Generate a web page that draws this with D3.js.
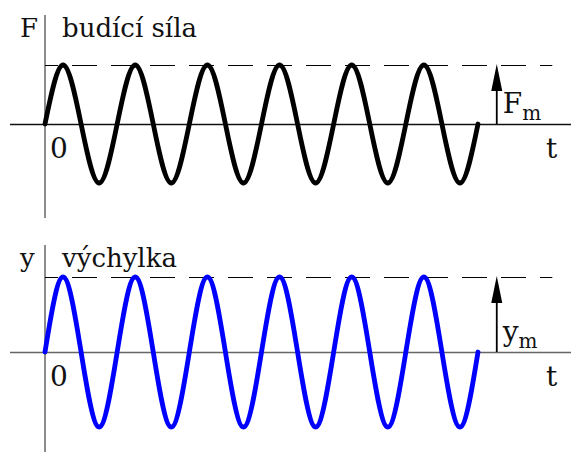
<!DOCTYPE html>
<html>
<head>
<meta charset="utf-8">
<script src="https://cdn.jsdelivr.net/npm/d3@7"></script>
<style>
  html, body { margin: 0; padding: 0; background: #fff; }
  svg { display: block; }
  text { font-family: "DejaVu Serif", "Liberation Serif", serif; fill: #111; }
</style>
</head>
<body>
<script>
// Time in periods of the driving force, sampled every quarter period
const timeKeys = [0, 0.25, 0.5, 0.75, 1, 1.25, 1.5, 1.75, 2, 2.25, 2.5, 2.75, 3,
                  3.25, 3.5, 3.75, 4, 4.25, 4.5, 4.75, 5, 5.25, 5.5, 5.75, 6];
// Driving force F(t), in units of the amplitude F_m
const forceKeys = [0, 1, 0, -1, 0, 1, 0, -1, 0, 1, 0, -1, 0,
                   1, 0, -1, 0, 1, 0, -1, 0, 1, 0, -1, 0];
// Displacement y(t), in units of the amplitude y_m
const displacementKeys = [0, 1, 0, -1, 0, 1, 0, -1, 0, 1, 0, -1, 0,
                          1, 0, -1, 0, 1, 0, -1, 0, 1, 0, -1, 0];
// Amplitude marker position and peak-line end, in periods
const amplitudeMarkT = 6.26;
const peakLineEndT = 7.03;

const panels = [
  { axisName: "F", title: "budící síla", amp: "F", ampSub: "m", values: forceKeys,
    color: "#000", axisColor: "#111", top: 15, bottom: 218, y0: 124, yPeak: 65 },
  { axisName: "y", title: "výchylka", amp: "y", ampSub: "m", values: displacementKeys,
    color: "#0000ff", axisColor: "#666", top: 245, bottom: 452, y0: 352, yPeak: 277 }
];

const W = 571, H = 452;
const svg = d3.select("body").append("svg").attr("width", W).attr("height", H);

const x = d3.scaleLinear().domain([0, 6]).range([45, 478]);

panels.forEach(p => {
  const g = svg.append("g");
  const y = d3.scaleLinear().domain([-1, 1]).range([2 * p.y0 - p.yPeak, p.yPeak]);

  // vertical axis
  g.append("line").attr("x1", x(0)).attr("x2", x(0))
    .attr("y1", p.top).attr("y2", p.bottom)
    .attr("stroke", "#666").attr("stroke-width", 1.5);
  // time axis
  g.append("line").attr("x1", 10).attr("x2", W)
    .attr("y1", y(0) + 0.5).attr("y2", y(0) + 0.5)
    .attr("stroke", p.axisColor).attr("stroke-width", 1.3);

  // dashed amplitude level
  g.append("line").attr("x1", x(0)).attr("x2", x(peakLineEndT))
    .attr("y1", y(1) + 0.5).attr("y2", y(1) + 0.5)
    .attr("stroke", "#000").attr("stroke-width", 1.1)
    .attr("stroke-dasharray", "25 14").attr("stroke-dashoffset", 12);

  // oscillation curve
  const pts = timeKeys.map((t, i) => [t, p.values[i]]);
  g.append("path").datum(pts)
    .attr("d", d3.line().x(d => x(d[0])).y(d => y(d[1])).curve(d3.curveNatural))
    .attr("fill", "none").attr("stroke", p.color).attr("stroke-width", 4.8)
    .attr("stroke-linecap", "round").attr("stroke-linejoin", "round");

  // amplitude arrow
  const ax = x(amplitudeMarkT);
  g.append("line").attr("x1", ax).attr("x2", ax)
    .attr("y1", y(0)).attr("y2", y(1) + 20)
    .attr("stroke", "#000").attr("stroke-width", 1.8);
  g.append("path")
    .attr("d", `M${ax},${y(1) - 1} L${ax - 5.5},${y(1) + 26} L${ax + 5.5},${y(1) + 26} Z`)
    .attr("fill", "#000");

  // amplitude label
  const amp = g.append("text").attr("x", ax + 6).attr("y", y(0) - 11)
    .style("font-size", "28px");
  amp.append("tspan").text(p.amp);
  amp.append("tspan").attr("dy", 7).style("font-size", "20px").text(p.ampSub);

  // axis names and titles
  g.append("text").attr("x", 20).attr("y", p.top + 22)
    .style("font-size", "26px").text(p.axisName);
  g.append("text").attr("x", 62).attr("y", p.top + 22)
    .style("font-size", "26px").text(p.title);

  // origin and time labels
  g.append("text").attr("x", 50).attr("y", y(0) + 34)
    .style("font-size", "28px").text("0");
  g.append("text").attr("x", 546).attr("y", y(0) + 34)
    .style("font-size", "28px").text("t");
});
</script>
</body>
</html>
